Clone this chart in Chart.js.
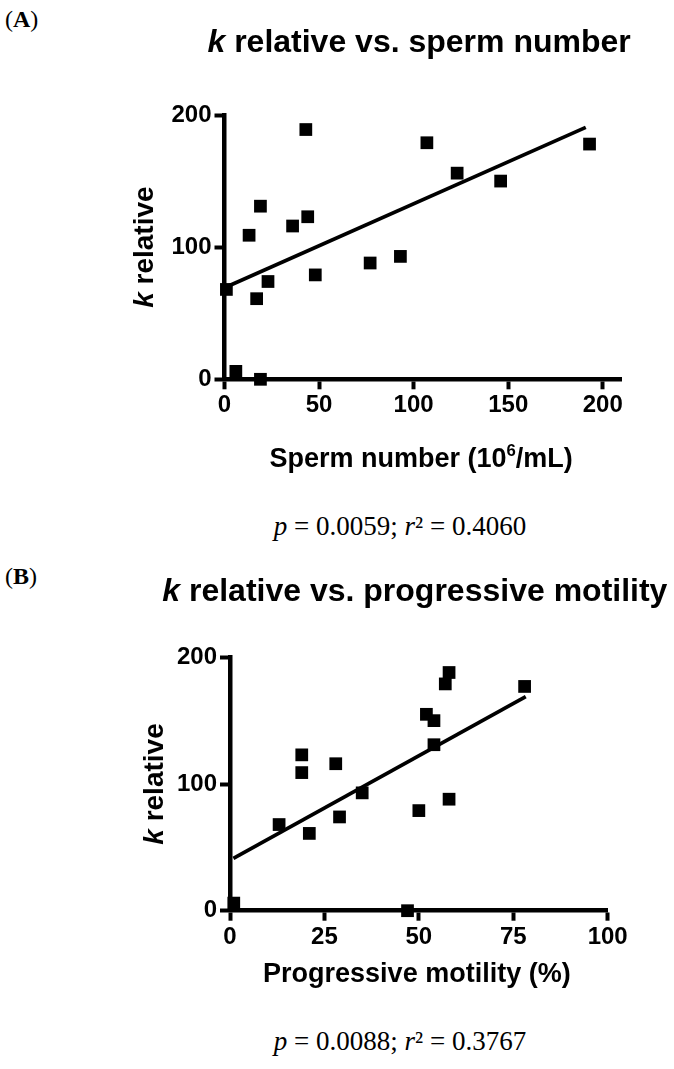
<!DOCTYPE html>
<html>
<head>
<meta charset="utf-8">
<script src="https://cdn.jsdelivr.net/npm/chart.js@4.4.1/dist/chart.umd.min.js"></script>
<style>
  body { margin: 0; background: #fff; width: 674px; height: 1069px; position: relative; overflow: hidden; }
  canvas { position: absolute; left: 0; }
  .tag, .cap { position: absolute; font-family: 'Liberation Serif', 'Times New Roman', serif; color: #000; white-space: nowrap; }
  .tag { left: 5px; font-size: 24px; line-height: 24px; }
  .cap { font-size: 27px; line-height: 27px; left: 400px; transform: translateX(-50%); }
</style>
</head>
<body>
<div class="tag" style="top:7px">(<b>A</b>)</div>
<canvas id="chartA" width="674" height="500" style="top:0"></canvas>
<div class="cap" style="top:513px"><i>p</i> = 0.0059; <i>r</i>² = 0.4060</div>

<div class="tag" style="top:564px">(<b>B</b>)</div>
<canvas id="chartB" width="674" height="480" style="top:540px"></canvas>
<div class="cap" style="top:1028px"><i>p</i> = 0.0088; <i>r</i>² = 0.3767</div>

<script>
// (A) k relative vs. sperm number
const spermNumber = [1, 6, 13, 17, 19, 19, 23, 36, 43, 44, 48, 77, 93, 107, 123, 146, 193];
const kRelativeA  = [68, 6, 109, 61, 131, 0, 74, 116, 189, 123, 79, 88, 93, 179, 156, 150, 178];
const fitAx = [1.2, 191];
const fitAy = [70, 190.6];

// (B) k relative vs. progressive motility
const motility   = [1, 13, 19, 19, 21, 28, 29, 35, 47, 50, 52, 54, 54, 57, 58, 58, 78];
const kRelativeB = [6, 68, 123, 109, 61, 116, 74, 93, 0, 79, 155, 150, 131, 179, 188, 88, 177];
const fitBx = [0.9, 78.3];
const fitBy = [41.3, 169];

const yTicks = [0, 100, 200];

const FONT = "'Liberation Sans', Arial, Helvetica, sans-serif";

// draws a line of text made of runs (italic / superscript parts), centred on cx
function drawRuns(ctx, runs, size, cx, baseY) {
    const fontOf = r => (r.italic ? 'italic ' : '') + 'bold ' + (r.sup ? size * 0.62 : size) + 'px ' + FONT;
    let w = 0;
    runs.forEach(r => { ctx.font = fontOf(r); w += ctx.measureText(r.text).width; });
    let x = cx - w / 2;
    ctx.save();
    ctx.fillStyle = '#000';
    ctx.textAlign = 'left';
    ctx.textBaseline = 'alphabetic';
    runs.forEach(r => {
        ctx.font = fontOf(r);
        ctx.fillText(r.text, x, baseY - (r.sup ? size * 0.42 : 0));
        x += ctx.measureText(r.text).width;
    });
    ctx.restore();
}

function richLabels(cfg) {
    return {
        id: 'richLabels',
        afterDraw(chart) {
            const ctx = chart.ctx;
            const a = chart.chartArea;
            const cx = (a.left + a.right) / 2;
            drawRuns(ctx, cfg.title, 32, cx - 4, cfg.titleBase);
            drawRuns(ctx, cfg.xTitle, 27, cx - 2, cfg.xTitleBase);
            ctx.save();
            ctx.translate(cfg.yTitleBase, (a.top + a.bottom) / 2);
            ctx.rotate(-Math.PI / 2);
            drawRuns(ctx, cfg.yTitle, 28, 0, 0);
            ctx.restore();
        }
    };
}

function axis(extra) {
    return Object.assign({
        type: 'linear',
        grid: { drawOnChartArea: false, drawTicks: true, tickLength: 10, tickWidth: 4, tickColor: '#000' },
        border: { display: true, color: '#000', width: 4.5 }
    }, extra);
}

function makeChart(id, xs, ys, fx, fy, xMax, xStep, geo, labels) {
    const points = xs.map((x, i) => ({ x: x, y: ys[i] }));
    const fit = fx.map((x, i) => ({ x: x, y: fy[i] }));
    const tickFont = { family: FONT, size: 24, weight: 'bold' };

    return new Chart(document.getElementById(id), {
        type: 'scatter',
        data: {
            datasets: [
                { data: fit, showLine: true, pointRadius: 0, borderColor: '#000', borderWidth: 3.7, clip: false },
                { data: points, pointStyle: 'rect', pointRadius: 9, backgroundColor: '#000', borderWidth: 0, clip: false }
            ]
        },
        options: {
            responsive: false,
            animation: false,
            devicePixelRatio: 1,
            events: [],
            layout: { padding: { top: geo.top, right: geo.right, bottom: 0, left: 0 } },
            plugins: { legend: { display: false }, tooltip: { enabled: false } },
            scales: {
                x: axis({
                    min: 0, max: xMax,
                    afterFit: s => { s.height = geo.xh; },
                    ticks: { stepSize: xStep, includeBounds: false, maxRotation: 0, padding: 2, color: '#000', font: tickFont }
                }),
                y: axis({
                    min: 0, max: 200,
                    afterFit: s => { s.width = geo.yw; },
                    afterBuildTicks: s => { s.ticks = yTicks.map(v => ({ value: v })); },
                    ticks: { padding: 3, color: '#000', font: tickFont }
                })
            }
        },
        plugins: [richLabels(labels)]
    });
}

makeChart('chartA', spermNumber, kRelativeA, fitAx, fitAy, 210, 50,
    { top: 115, right: 52.3, xh: 120.7, yw: 224.5 },
    {
        title: [{ text: 'k', italic: true }, { text: ' relative vs. sperm number' }],
        titleBase: 52,
        xTitle: [{ text: 'Sperm number (10' }, { text: '6', sup: true }, { text: '/mL)' }],
        xTitleBase: 467,
        yTitle: [{ text: 'k', italic: true }, { text: ' relative' }],
        yTitleBase: 153
    });

makeChart('chartB', motility, kRelativeB, fitBx, fitBy, 100, 25,
    { top: 117.3, right: 66.3, xh: 109.3, yw: 230 },
    {
        title: [{ text: 'k', italic: true }, { text: ' relative vs. progressive motility' }],
        titleBase: 61,
        xTitle: [{ text: 'Progressive motility (%)' }],
        xTitleBase: 442,
        yTitle: [{ text: 'k', italic: true }, { text: ' relative' }],
        yTitleBase: 163
    });
</script>
</body>
</html>
